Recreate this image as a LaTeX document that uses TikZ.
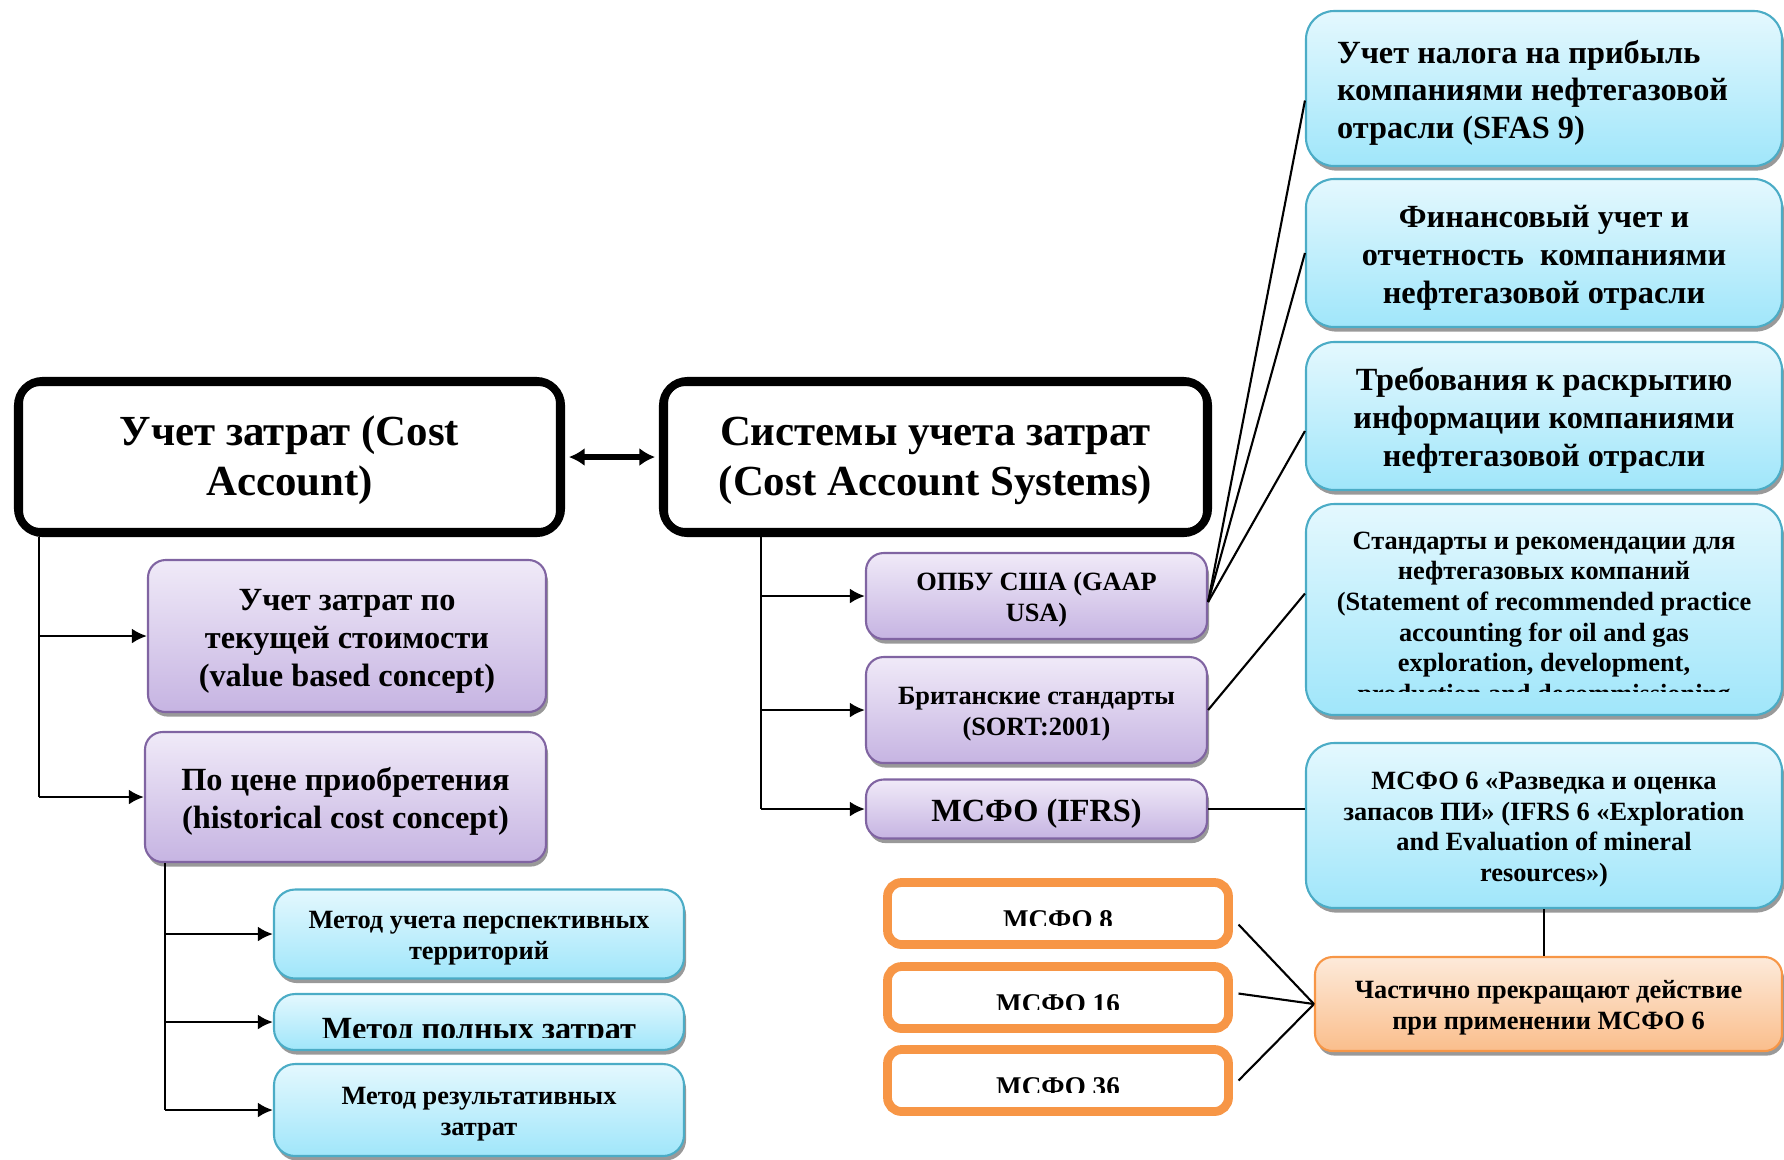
\documentclass[tikz,border=0pt]{standalone}
\usepackage{fontspec}
\setmainfont{Liberation Serif}
\usetikzlibrary{arrows.meta,shadows}
\definecolor{violetline}{RGB}{128,100,162}
\definecolor{violettop}{RGB}{240,234,248}
\definecolor{violetbot}{RGB}{198,180,226}
\definecolor{aqualine}{RGB}{75,172,198}
\definecolor{aquatop}{RGB}{228,248,254}
\definecolor{aquabot}{RGB}{160,230,250}
\definecolor{peachline}{RGB}{247,150,70}
\definecolor{peachtop}{RGB}{253,234,218}
\definecolor{peachbot}{RGB}{250,190,140}

\begin{document}
\begin{tikzpicture}[
      big/.style={font=\bfseries\fontsize{12.2}{14.2}\selectfont,
                  execute at begin node={\rule{0pt}{0.86em}}},
      mid/.style={font=\bfseries\fontsize{9.2}{10.7}\selectfont,
                  execute at begin node={\rule{0pt}{0.98em}}},
      sm/.style={font=\bfseries\fontsize{7.5}{8.7}\selectfont,
                 execute at begin node={\rule{0pt}{0.98em}}},
      bw/.style={text width=#1, minimum width=#1, inner xsep=0pt},
      mainbox/.style={draw=black, line width=2.3pt, rounded corners=7pt,
                      fill=white, align=flush center, inner sep=1pt, big},
      vbox/.style={draw=violetline, line width=0.6pt, rounded corners=5pt,
                   top color=violettop, bottom color=violetbot,
                   align=flush center, inner sep=1pt,
                   drop shadow={shadow xshift=0.6pt, shadow yshift=-1.3pt,
                                fill=black!40, opacity=1}},
      abox/.style={draw=aqualine, line width=0.6pt, rounded corners=6pt,
                   top color=aquatop, bottom color=aquabot,
                   align=flush center, inner sep=1pt,
                   drop shadow={shadow xshift=0.6pt, shadow yshift=-1.3pt,
                                fill=black!40, opacity=1}},
      obox/.style={draw=peachline, line width=0.6pt, rounded corners=5pt,
                   top color=peachtop, bottom color=peachbot,
                   align=flush center, inner sep=1pt,
                   drop shadow={shadow xshift=0.6pt, shadow yshift=-1.3pt,
                                fill=black!40, opacity=1}},
      rbox/.style={draw=peachline, line width=2.5pt, rounded corners=4pt,
                   fill=white, minimum width=3.41cm, minimum height=0.62cm},
      arr/.style={-{Latex[length=4.3pt,width=4.3pt]}, line width=0.8pt},
      dbl/.style={{Latex[length=4.5pt,width=5.2pt]}-{Latex[length=4.5pt,width=5.2pt]},
                  line width=1.6pt},
      lnk/.style={line width=0.6pt},
    ]
    \useasboundingbox (0,0) rectangle (17.84,-11.59);
    %% two main blocks
    \node[mainbox, bw=5.43cm, minimum height=1.52cm] (cost)
      at (2.895,-4.57) {Учет затрат (Cost\\Account)};
    \node[mainbox, bw=5.45cm, minimum height=1.52cm] (systems)
      at (9.355,-4.57) {Системы учета затрат\\(Cost Account Systems)};
    \foreach \n in {cost,systems}
      \draw[line width=0.6pt, rounded corners=5pt]
        ([shift={(2.3pt,-2.3pt)}]\n.north west) rectangle
        ([shift={(-2.3pt,2.3pt)}]\n.south east);
    \draw[dbl, shorten <=1.1pt, shorten >=1.1pt] (cost.east) -- (systems.west);

    %% left branch: concepts
    \node[vbox, mid, bw=3.98cm, minimum height=1.52cm] (current)
      at (3.47,-6.36) {Учет затрат по\\текущей стоимости\\(value based concept)};
    \node[vbox, mid, bw=4.01cm, minimum height=1.30cm] (historic)
      at (3.455,-7.97) {По цене приобретения\\(historical cost concept)};
    \coordinate (ltrunk) at (0.39,0);
    \draw[lnk] (ltrunk |- cost.south) -- (ltrunk |- historic.west);
    \foreach \n in {current,historic}
      \draw[arr] (ltrunk |- \n.west) -- (\n.west);

    %% methods under historical cost
    \node[abox, sm, bw=4.10cm, minimum height=0.89cm] (prosp)
      at (4.79,-9.34) {Метод учета перспективных\\территорий};
    \node[abox, bw=4.10cm, minimum height=0.56cm] (fullcost)
      at (4.79,-10.22) {};
    \begin{scope}
      \clip (fullcost.north west) rectangle (6.8,-10.37);
      \node[font=\bfseries\fontsize{9.2}{10.7}\selectfont, anchor=base]
        (fullcost-txt) at (4.79,-10.39) {Метод полных затрат};
    \end{scope}
    \node[abox, sm, bw=4.10cm, minimum height=0.92cm] (succ)
      at (4.79,-11.10) {Метод результативных\\затрат};
    \coordinate (mtrunk) at (1.65,0);
    \draw[lnk] (mtrunk |- historic.south) -- (mtrunk |- succ.west);
    \foreach \n in {prosp,fullcost,succ}
      \draw[arr] (mtrunk |- \n.west) -- (\n.west);

    %% right branch: standards
    \node[vbox, sm, bw=3.41cm, minimum height=0.86cm] (gaap)
      at (10.365,-5.96) {ОПБУ США (GAAP\\USA)};
    \node[vbox, sm, bw=3.41cm, minimum height=1.06cm] (sorp)
      at (10.365,-7.10) {Британские стандарты\\(SORT:2001)};
    \node[vbox, mid, bw=3.41cm, minimum height=0.59cm] (ifrs)
      at (10.365,-8.09) {МСФО (IFRS)};
    \coordinate (strunk) at (7.61,0);
    \draw[lnk] (strunk |- systems.south) -- (strunk |- ifrs.west);
    \foreach \n in {gaap,sorp,ifrs}
      \draw[arr] (strunk |- \n.west) -- (\n.west);

    %% oil and gas documents
    \node[abox, mid, rounded corners=8pt, align=flush left, text width=4.14cm,
          inner xsep=0.31cm, minimum height=1.55cm] (sfas)
      at (15.44,-0.885) {Учет налога на прибыль\\компаниями нефтегазовой\\отрасли (SFAS 9)};
    \node[abox, mid, rounded corners=8pt, bw=4.76cm, minimum height=1.48cm]
      (finacc) at (15.44,-2.53)
      {Финансовый учет и\\отчетность~ компаниями\\нефтегазовой отрасли};
    \node[abox, mid, rounded corners=8pt, bw=4.76cm, minimum height=1.48cm]
      (disclose) at (15.44,-4.16)
      {Требования к раскрытию\\информации компаниями\\нефтегазовой отрасли};
    \node[abox, rounded corners=8pt, bw=4.76cm, minimum height=2.11cm]
      (sorpstd) at (15.44,-6.095) {};
    \begin{scope}
      \clip (sorpstd.north west) rectangle (17.8,-6.91);
      \node[sm, align=center] (sorpstd-txt) at (15.44,-6.2)
        {Стандарты и рекомендации для\\нефтегазовых компаний\\(Statement of recommended practice\\accounting for oil and gas\\exploration, development,\\production and decommissioning};
    \end{scope}
    \node[abox, sm, rounded corners=8pt, bw=4.76cm, minimum height=1.65cm]
      (ifrssix) at (15.44,-8.255)
      {МСФО 6 «Разведка и оценка\\запасов ПИ» (IFRS 6 «Exploration\\and Evaluation of mineral\\resources»)};
    \node[obox, sm, bw=4.67cm, minimum height=0.94cm] (partial)
      at (15.485,-10.04) {Частично прекращают действие\\при применении МСФО 6};

    %% standards partly replaced
    \foreach \n/\y/\t/\c/\s in {8/9.135/9.28/9.25/-0.11,
                                16/9.975/10.12/10.09/0.04,
                                36/10.805/10.95/10.92/0}{
      \node[rbox] (ifrs\n) at (10.58,-\y) {};
      \draw[peachline, line width=0.6pt, rounded corners=3pt]
        ([shift={(2.1pt,-2.1pt)}]ifrs\n.north west) rectangle
        ([shift={(-2.1pt,2.1pt)}]ifrs\n.south east);
      \begin{scope}
        \clip (ifrs\n.north west) rectangle (12.3,-\c);
        \node[font=\bfseries\fontsize{7.7}{9}\selectfont, anchor=base]
          (ifrs\n-txt) at (10.58,-\t) {МСФО \n};
      \end{scope}
      \draw[lnk] ([shift={(1.6pt,\s cm)}]ifrs\n.east) -- (partial.west);
    }

    %% links to the documents
    \draw[lnk] ([yshift=-0.06cm]gaap.east) -- ([yshift=-0.12cm]sfas.west);
    \draw[lnk] ([yshift=-0.06cm]gaap.east) -- (finacc.west);
    \draw[lnk] ([yshift=-0.06cm]gaap.east) -- ([yshift=-0.15cm]disclose.west);
    \draw[lnk] (sorp.east) -- ([yshift=0.16cm]sorpstd.west);
    \draw[lnk] (ifrs.east) -- (ifrs.east -| ifrssix.west);
    \draw[lnk] (ifrssix.south) -- (ifrssix.south |- partial.north);
\end{tikzpicture}
\end{document}
